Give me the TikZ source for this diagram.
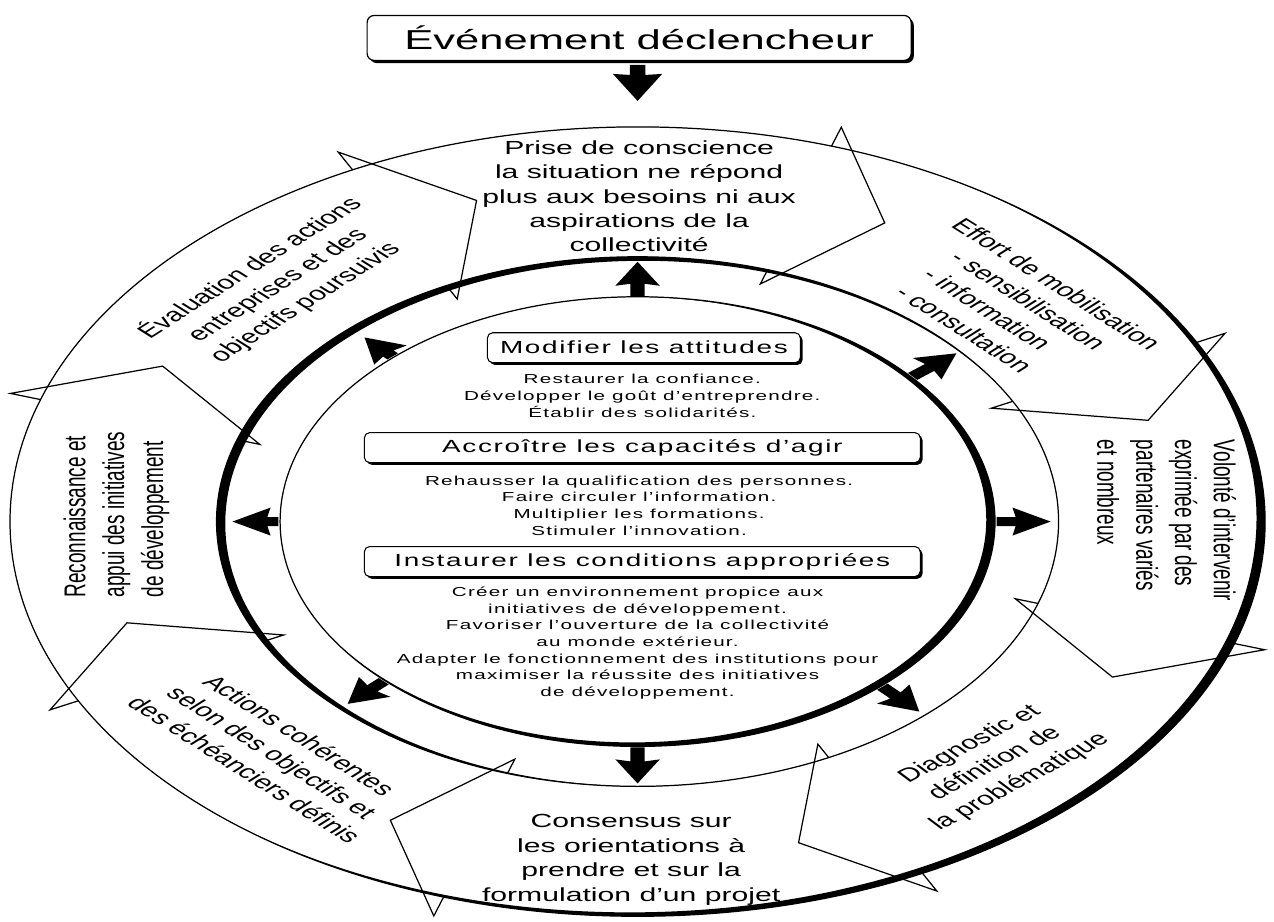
\documentclass[tikz,border=0pt]{standalone}
\usepackage{fontspec}
\setmainfont{Liberation Sans}
\newfontfamily\widefont[LetterSpace=6]{Liberation Sans}
\usetikzlibrary{shadows}

\begin{document}
\begin{tikzpicture}[x=0.02cm, y=0.02cm, xscale=1.59,
        every node/.append style={transform shape},
        stagetext/.style={font=\fontsize{10.8}{13.9}\selectfont, align=center},
        aimbox/.style={draw, fill=white, rounded corners=3pt, line width=0.6pt,
            general shadow={fill=black, shadow xshift=1.3pt, shadow yshift=-1.3pt},
            inner xsep=4.5pt, minimum height=0.6cm, font=\widefont\fontsize{10}{12}\selectfont},
        aimtext/.style={font=\widefont\fontsize{7.4}{9.5}\selectfont, align=center}]
    \useasboundingbox (-401.3,-400) rectangle (400.6,522);

    % heavy parts of the three rings
    \begin{scope}
        \clip (0,0) circle (395);
        \fill[even odd rule] (0,0) circle (395) (-4.9,3.4) circle (394.5);
    \end{scope}
    \begin{scope}
        \clip (0,0) circle (265);
        \fill[even odd rule] (0,0) circle (265) (3.5,-2) circle (263);
    \end{scope}
    \begin{scope}
        \clip (0,0) circle (225);
        \fill[even odd rule] (0,0) circle (225) (-3.5,2) circle (223);
    \end{scope}
    \draw[line width=0.7pt] (0,0) circle (395);
    \draw[line width=0.7pt] (0,0) circle (265);
    \draw[line width=0.7pt] (0,0) circle (225);

    % heads of the eight stages
    \draw[line width=0.7pt] (162:395) -- (162:415) -- (152.5:337) -- (162:250) -- (162:265);
    \draw[line width=0.7pt] (117:395) -- (117:415) -- (107.5:337) -- (117:250) -- (117:265);
    \draw[line width=0.7pt] (72:395) -- (72:415) -- (62.5:337) -- (72:250) -- (72:265);
    \draw[line width=0.7pt] (27:395) -- (27:415) -- (17.5:337) -- (27:250) -- (27:265);
    \draw[line width=0.7pt] (-18:395) -- (-18:415) -- (-27.5:337) -- (-18:250) -- (-18:265);
    \draw[line width=0.7pt] (-63:395) -- (-63:415) -- (-72.5:337) -- (-63:250) -- (-63:265);
    \draw[line width=0.7pt] (-108:395) -- (-108:415) -- (-117.5:337) -- (-108:250) -- (-108:265);
    \draw[line width=0.7pt] (-153:395) -- (-153:415) -- (-162.5:337) -- (-153:250) -- (-153:265);

    % small arrows from the centre
    \fill[rotate=90] (226,-4.5) -- (238,-4.5) -- (236,-14) -- (260,0) -- (236,14) -- (238,4.5) -- (226,4.5) -- cycle;
    \fill[rotate=40] (226,-4.5) -- (240,-4.5) -- (238,-14) -- (262,0) -- (238,14) -- (240,4.5) -- (226,4.5) -- cycle;
    \fill[rotate=0] (226,-4.5) -- (238,-4.5) -- (236,-14) -- (260,0) -- (236,14) -- (238,4.5) -- (226,4.5) -- cycle;
    \fill[rotate=-47] (226,-4.5) -- (238,-4.5) -- (236,-14) -- (260,0) -- (236,14) -- (238,4.5) -- (226,4.5) -- cycle;
    \fill[rotate=-90] (226,-4.5) -- (240,-4.5) -- (238,-14) -- (262,0) -- (238,14) -- (240,4.5) -- (226,4.5) -- cycle;
    \fill[rotate=-135] (226,-4.5) -- (236,-4.5) -- (234,-14) -- (258,0) -- (234,14) -- (236,4.5) -- (226,4.5) -- cycle;
    \fill[rotate=180] (226,-4.5) -- (233,-4.5) -- (231,-14) -- (255,0) -- (231,14) -- (233,4.5) -- (226,4.5) -- cycle;
    \fill[rotate=133] (226,-4.5) -- (230,-4.5) -- (228,-14) -- (252,0) -- (228,14) -- (230,4.5) -- (226,4.5) -- cycle;

    % trigger
    \node[draw, fill=white, rounded corners=4pt, line width=0.7pt,
        general shadow={fill=black, shadow xshift=1.5pt, shadow yshift=-1.5pt},
        minimum width=6.85cm, minimum height=0.9cm,
        font=\fontsize{15.6}{18}\selectfont] (event) at (1,484) {Événement déclencheur};
    \fill (-4.9,457) -- (-4.9,447) -- (-15.5,448) -- (0,421) -- (15.5,448) -- (4.9,447) -- (4.9,457) -- cycle;

    % stages
    \node[stagetext] (prise) at (1,325.5) {Prise de conscience\\la situation ne répond\\plus aux besoins ni aux\\aspirations de la\\collectivité};
    \node[stagetext, rotate=-45, align=left] (effort) at (238,212) {Effort de mobilisation\\\hspace*{1.2em}- sensibilisation\\\hspace*{1.2em}- information\\\hspace*{1.2em}- consultation};
    \node[stagetext, rotate=-90, align=left] (volonte) at (333,1) {Volonté d’intervenir\\exprimée par des\\partenaires variés\\et nombreux};
    \node[stagetext, rotate=40] (diagnostic) at (225,-242) {Diagnostic et\\définition de\\la problématique};
    \node[stagetext] (consensus) at (-4,-338.5) {Consensus sur\\les orientations à\\prendre et sur la\\formulation d’un projet};
    \node[stagetext, rotate=-45] (actions) at (-230,-231) {Actions cohérentes\\selon des objectifs et\\des échéanciers définis};
    \node[stagetext, rotate=90, align=left] (reconnaissance) at (-328,7) {Reconnaissance et\\appui des initiatives\\de développement};
    \node[stagetext, rotate=45] (evaluation) at (-227,237) {Évaluation des actions\\entreprises et des\\objectifs poursuivis};

    % centre
    \node[aimbox] (attitudes) at (4,174) {Modifier les attitudes};
    \node[aimtext] (attitudestext) at (3,126) {Restaurer la confiance.\\Développer le goût d’entreprendre.\\Établir des solidarités.};
    \node[aimbox, minimum width=7cm] (capacites) at (3,74) {Accroître les capacités d’agir};
    \node[aimtext] (capacitestext) at (1,16) {Rehausser la qualification des personnes.\\Faire circuler l’information.\\Multiplier les formations.\\Stimuler l’innovation.};
    \node[aimbox, minimum width=7cm] (conditions) at (3,-40) {Instaurer les conditions appropriées};
    \node[aimtext] (conditionstext) at (0,-121.5) {Créer un environnement propice aux\\initiatives de développement.\\Favoriser l’ouverture de la collectivité\\au monde extérieur.\\Adapter le fonctionnement des institutions pour\\maximiser la réussite des initiatives\\de développement.};
\end{tikzpicture}
\end{document}
